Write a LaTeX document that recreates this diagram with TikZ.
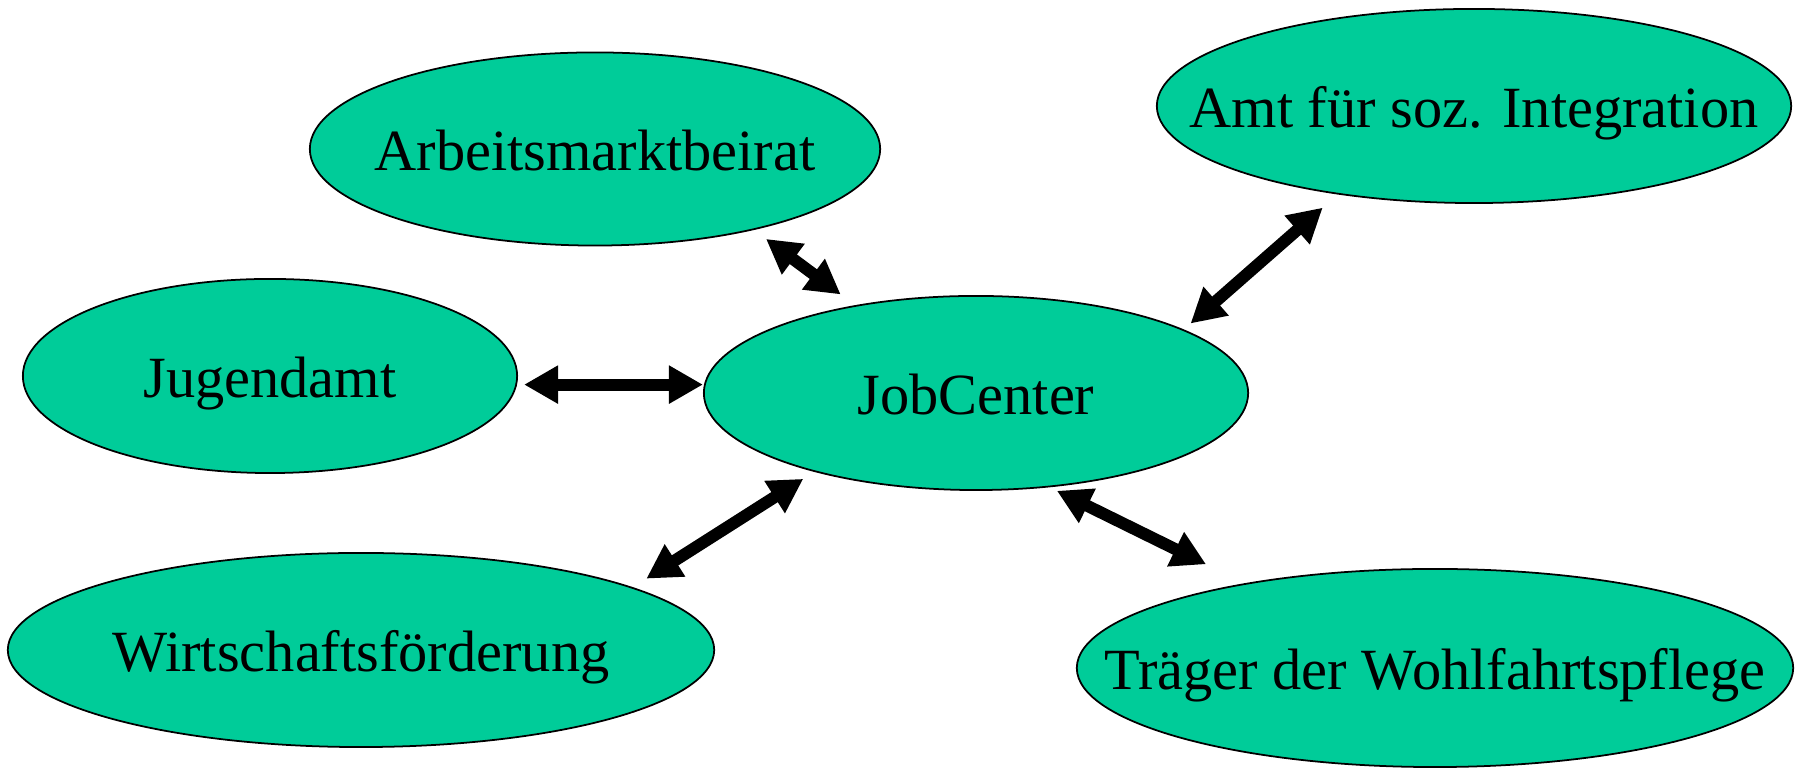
\documentclass[tikz,border=0pt]{standalone}
\usepackage{fontspec}
\setmainfont{Liberation Serif}
\usetikzlibrary{arrows.meta,shapes.geometric}
\definecolor{amtgruen}{RGB}{0,204,153}
\newcommand{\lbl}[1]{\makebox[0pt]{\raisebox{-6.2pt}[0pt][0pt]{#1}}}
\tikzset{
  amt/.style={ellipse, draw=black, line width=0.5pt, fill=amtgruen, inner sep=0pt,
    font=\fontsize{16.6}{20}\selectfont},
  link/.style={line width=0.12cm, {Triangle[length=0.34cm,width=0.36cm]}-{Triangle[length=0.34cm,width=0.36cm]}}
}
\begin{document}
\begin{tikzpicture}[x=0.01cm,y=-0.01cm]
        \useasboundingbox (0,0) rectangle (1800,771);

        \node[amt, minimum width=5.70cm, minimum height=1.93cm] (arb) at (595,149) {\lbl{Arbeitsmarktbeirat}};
        \node[amt, minimum width=6.34cm, minimum height=1.94cm] (soz) at (1474,106) {\lbl{Amt für soz. Integration}};
        \node[amt, minimum width=4.94cm, minimum height=1.94cm] (jug) at (270,376) {\lbl{Jugendamt}};
        \node[amt, minimum width=5.44cm, minimum height=1.94cm] (job) at (976,393) {\lbl{JobCenter}};
        \node[amt, minimum width=7.06cm, minimum height=1.94cm] (wir) at (361,650) {\lbl{Wirtschaftsförderung}};
        \node[amt, minimum width=7.16cm, minimum height=1.98cm] (trae) at (1435,668) {\lbl{Träger der Wohlfahrtspflege}};

        \draw[link, shorten <=0.15cm, shorten >=0.18cm] (arb.-27) -- (job.144.5);
        \draw[link, shorten <=0.20cm, shorten >=0.09cm] (soz.213.2) -- (job.17.5);
        \draw[link, shorten <=0.07cm] (jug.-2.5) -- (jug.-2.5 -| job.west);
        \draw[link, shorten <=0.16cm, shorten >=0.13cm] (wir.13.3) -- (job.206.8);
        \draw[link, shorten <=0.43cm, shorten >=0.08cm] (trae.156.8) -- (job.-52.4);
    \end{tikzpicture}
\end{document}
